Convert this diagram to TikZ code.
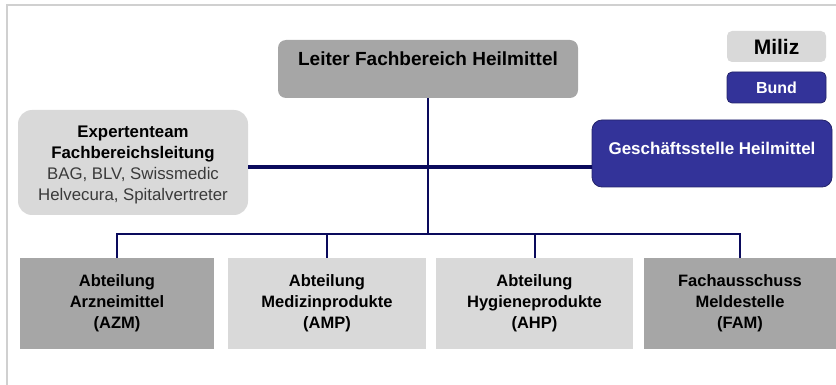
\documentclass[tikz,border=0pt]{standalone}
\usepackage{fontspec}
\setmainfont{Liberation Sans}
\definecolor{dgray}{HTML}{A6A6A6}
\definecolor{lgray}{HTML}{D9D9D9}
\definecolor{bblue}{HTML}{333399}
\definecolor{navy}{HTML}{0A0A5C}
\definecolor{framegray}{HTML}{D0D0D0}
\definecolor{subtext}{HTML}{3A3A3A}
\tikzset{
  box/.style={inner sep=0pt, draw=none},
  conn/.style={draw=navy, line width=2pt},
  thickconn/.style={draw=navy, line width=3.8pt},
  lbl/.style={inner sep=0pt, align=center, font=\bfseries\fontsize{16.5}{21}\selectfont},
}
\begin{document}
\begin{tikzpicture}[x=1pt,y=-1pt]
\useasboundingbox (0,0) rectangle (836,385);
% frame
\draw[framegray, line width=1.5pt] (7,385) -- (7,5) -- (836,5);

% top box
\node[box, fill=dgray, rounded corners=8pt, minimum width=300pt, minimum height=58pt] (leiter) at (428,69) {};
\node[lbl, font=\bfseries\fontsize{19}{22}\selectfont] (leitertxt) at (428,59) {Leiter Fachbereich Heilmittel};

% legend
\node[box, fill=lgray, rounded corners=5pt, minimum width=99pt, minimum height=31pt,
      font=\bfseries\fontsize{21}{24}\selectfont] (miliz) at (776.5,46.5) {Miliz};
\node[box, fill=bblue, draw=bblue!70!black, line width=0.8pt, rounded corners=5pt, minimum width=99pt, minimum height=31pt,
      text=white, font=\bfseries\fontsize{16}{19}\selectfont] (bund) at (776.5,87.5) {Bund};

% expert team
\node[box, fill=lgray, rounded corners=14pt, minimum width=230pt, minimum height=105pt] (expert) at (133,162.5) {};
\node[inner sep=0pt, align=center, font=\fontsize{16.8}{21}\selectfont] (experttxt) at (133,164.5)
  {\textbf{Expertenteam}\\\textbf{Fachbereichsleitung}\\\textcolor{subtext}{BAG, BLV, Swissmedic}\\\textcolor{subtext}{Helvecura, Spitalvertreter}};

% Geschaeftsstelle
\node[box, fill=bblue, draw=bblue!70!black, line width=0.8pt, rounded corners=10pt, minimum width=240pt, minimum height=67pt] (gs) at (712,153.5) {};
\node[lbl, text=white, font=\bfseries\fontsize{17}{20}\selectfont] (gstxt) at (712,148) {Geschäftsstelle Heilmittel};

% bottom boxes
\node[box, lbl, fill=dgray, minimum width=194pt, minimum height=91pt] (azm) at (117,303.5) {Abteilung\\Arzneimittel\\(AZM)};
\node[box, lbl, fill=lgray, minimum width=198pt, minimum height=91pt] (amp) at (327,303.5) {Abteilung\\Medizinprodukte\\(AMP)};
\node[box, lbl, fill=lgray, minimum width=197pt, minimum height=91pt] (ahp) at (534.5,303.5) {Abteilung\\Hygieneprodukte\\(AHP)};
\node[box, lbl, fill=dgray, minimum width=192pt, minimum height=91pt] (fam) at (740,303.5) {Fachausschuss\\Meldestelle\\(FAM)};

% connectors
\coordinate (hline) at (428,167);
\coordinate (bus) at (428,234);
\draw[thickconn] (expert.east |- hline) -- (gs.west |- hline);
\draw[conn] (leiter.south) -- (bus);
\draw[conn] (azm.north) |- (bus);
\draw[conn] (amp.north) |- (bus);
\draw[conn] (ahp.north) |- (bus);
\draw[conn] (fam.north) |- (bus);
\end{tikzpicture}
\end{document}
